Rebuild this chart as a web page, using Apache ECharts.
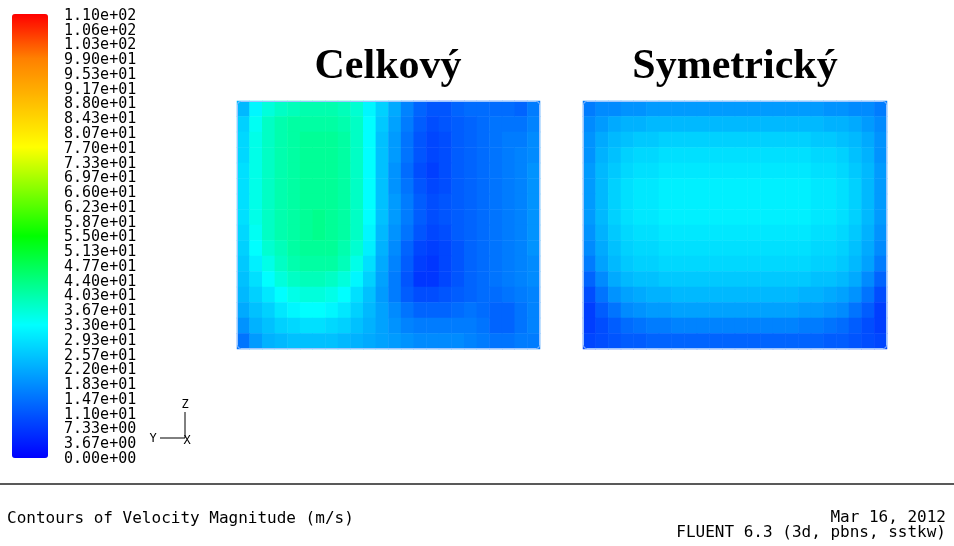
<!DOCTYPE html>
<html><head><meta charset="utf-8">
<script src="https://cdn.jsdelivr.net/npm/echarts@6/dist/echarts.min.js"></script>
<style>html,body{margin:0;padding:0;background:#fff}#c{width:954px;height:546px}</style>
</head><body><div id="c"></div>
<script>
// colour-bar tick labels (bottom to top)
const tickLabels = ["0.00e+00","3.67e+00","7.33e+00","1.10e+01","1.47e+01","1.83e+01","2.20e+01","2.57e+01","2.93e+01","3.30e+01","3.67e+01","4.03e+01","4.40e+01","4.77e+01","5.13e+01","5.50e+01","5.87e+01","6.23e+01","6.60e+01","6.97e+01","7.33e+01","7.70e+01","8.07e+01","8.43e+01","8.80e+01","9.17e+01","9.53e+01","9.90e+01","1.03e+02","1.06e+02","1.10e+02"];
const vMin = 0, vMax = 110;
const titles = ["Celkový", "Symetrický"];
// velocity magnitude (m/s), rows top -> bottom, columns left -> right
const celkovy = [
  [24,32,36,38,39,40,40,40,39,37,32,27,22,17,13,11,11,13,14,14,14,14,13,16],
  [27,34,38,40,41,41,41,41,40,38,33,26,21,16,12,10,11,12,13,14,15,15,15,17],
  [28,35,38,40,41,42,42,42,41,38,33,25,20,15,11, 9,10,12,13,14,15,16,16,18],
  [28,35,38,40,41,42,42,42,41,38,33,25,20,15,11, 9,10,12,13,14,15,16,17,18],
  [29,35,38,40,41,42,42,42,41,38,33,25,19,14,10, 8,10,12,13,14,15,16,17,19],
  [29,35,38,40,41,42,42,42,41,38,33,25,19,15,11, 9,10,12,13,14,15,16,17,19],
  [29,35,38,40,41,42,42,42,41,38,33,25,20,16,12,10,11,12,13,14,15,16,17,19],
  [29,35,38,40,41,42,43,42,41,38,33,25,20,16,12,10,11,12,13,14,15,16,17,19],
  [28,34,38,40,41,42,43,42,41,38,32,24,19,15,11, 9,10,12,13,14,15,16,17,19],
  [27,33,37,39,41,42,42,42,40,37,31,23,18,13, 9, 8, 9,11,13,14,15,16,17,19],
  [26,31,35,38,40,41,41,41,39,35,29,22,17,12, 8, 7, 9,11,13,14,15,16,17,18],
  [25,29,33,36,38,39,39,38,36,32,27,21,16,11, 7, 7, 9,11,13,14,15,16,17,18],
  [24,27,30,33,35,36,36,35,33,29,25,20,16,12,10,10,11,12,13,14,14,15,16,17],
  [22,25,27,30,32,33,33,32,30,27,24,21,18,15,13,13,13,14,15,14,13,13,15,17],
  [19,23,25,27,28,29,29,28,27,25,23,21,19,17,16,16,16,16,16,15,13,13,15,17],
  [15,20,23,24,25,25,25,25,24,23,22,21,20,19,18,18,18,18,17,16,15,15,16,16]
];
const symetricky = [
  [16,18,18,19,19,20,20,20,20,20,20,20,20,20,20,20,20,20,20,19,19,18,18,16],
  [18,20,22,23,23,24,24,24,24,24,24,24,24,24,24,24,24,24,24,23,23,22,20,18],
  [19,22,24,25,26,26,27,27,27,27,27,27,27,27,27,27,27,27,26,26,25,24,22,19],
  [19,23,25,27,28,28,29,29,29,29,29,29,29,29,29,29,29,29,28,28,27,25,23,19],
  [20,24,26,28,29,29,30,30,30,30,30,30,30,30,30,30,30,30,29,29,28,26,24,20],
  [20,24,27,29,30,30,31,31,31,31,31,31,31,31,31,31,31,31,30,30,29,27,24,20],
  [20,24,27,29,30,30,31,31,31,31,31,31,31,31,31,31,31,31,30,30,29,27,24,20],
  [20,24,27,29,30,30,31,31,31,31,31,31,31,31,31,31,31,31,30,30,29,27,24,20],
  [19,23,26,28,29,29,30,30,30,30,30,30,30,30,30,30,30,30,29,29,28,26,23,19],
  [18,22,25,27,28,28,29,29,29,29,29,29,29,29,29,29,29,29,28,28,27,25,22,18],
  [16,21,24,26,27,27,28,28,28,28,28,28,28,28,28,28,28,28,27,27,26,24,21,16],
  [13,18,22,24,25,25,26,26,26,26,26,26,26,26,26,26,26,26,25,25,24,22,18,13],
  [10,15,19,21,22,23,23,24,24,24,24,24,24,24,24,24,24,23,23,22,21,19,15,10],
  [ 8,12,15,18,19,20,20,21,21,21,21,21,21,21,21,21,21,20,20,19,18,15,12, 8],
  [ 8,10,12,14,15,16,16,17,17,17,17,17,17,17,17,17,17,16,16,15,14,12,10, 8],
  [ 9,10,11,12,12,13,13,13,13,13,13,13,13,13,13,13,13,13,13,12,12,11,10, 9]
];
const footerLeft = "Contours of Velocity Magnitude (m/s)";
const footerDate = "Mar 16, 2012";
const footerVersion = "FLUENT 6.3 (3d, pbns, sstkw)";

function toCells(m){const out=[];m.forEach((row,j)=>row.forEach((v,i)=>out.push([i,j,v])));return out;}
const cols = celkovy[0].map((_,i)=>String(i));
const rows = celkovy.map((_,j)=>String(j));

const chart = echarts.init(document.getElementById('c'), null, {renderer:'canvas'});
const mono = 'DejaVu Sans Mono';
const panelGrids = [
  {left:237, top:101, width:303, height:248},
  {left:583, top:101, width:304, height:248}
];
const outline = panelGrids.map(g=>({type:'rect', z:100, shape:{x:g.left+0.5, y:g.top+0.5, width:g.width-1, height:g.height-1, r:3},
  style:{fill:null, stroke:'#9cc4ff', lineWidth:1}}));
const option = {
  backgroundColor:'#fff',
  animation:false,
  grid:[panelGrids[0], panelGrids[1], {left:12, top:16, width:36, height:443}],
  xAxis:[
    {type:'category', data:cols, gridIndex:0, show:false},
    {type:'category', data:cols, gridIndex:1, show:false},
    {type:'value', gridIndex:2, show:false, min:0, max:1}
  ],
  yAxis:[
    {type:'category', data:rows, gridIndex:0, show:false, inverse:true},
    {type:'category', data:rows, gridIndex:1, show:false, inverse:true},
    {type:'category', data:tickLabels, gridIndex:2, position:'right', boundaryGap:false,
     axisLine:{show:false}, axisTick:{show:false}, splitLine:{show:false},
     axisLabel:{show:true, interval:0, margin:16, color:'#000', fontFamily:mono, fontSize:15, align:'left'}}
  ],
  visualMap:{
    type:'continuous', min:vMin, max:vMax, calculable:false, seriesIndex:[0,1],
    left:12, top:14, itemWidth:36, itemHeight:444, padding:0, text:null, showLabel:false,
    inRange:{color:['#0000ff','#0055ff','#00aaff','#00ffff','#00ff80','#00ff00','#80ff00','#ffff00','#ffbf00','#ff8000','#ff0000']}
  },
  series:[
    {type:'heatmap', xAxisIndex:0, yAxisIndex:0, data:toCells(celkovy), itemStyle:{borderWidth:0}},
    {type:'heatmap', xAxisIndex:1, yAxisIndex:1, data:toCells(symetricky), itemStyle:{borderWidth:0}}
  ],
  graphic:outline.concat([
    {type:'text', x:388, y:67, style:{text:titles[0], fontFamily:'Liberation Serif', fontWeight:'bold', fontSize:42, fill:'#000', textAlign:'center', textVerticalAlign:'middle'}},
    {type:'text', x:735, y:67, style:{text:titles[1], fontFamily:'Liberation Serif', fontWeight:'bold', fontSize:42, fill:'#000', textAlign:'center', textVerticalAlign:'middle'}},
    {type:'line', shape:{x1:0,y1:484,x2:954,y2:484}, style:{stroke:'#222', lineWidth:1.6}},
    {type:'text', x:7, y:519, style:{text:footerLeft, fontFamily:mono, fontSize:16, fill:'#000', textVerticalAlign:'middle'}},
    {type:'text', x:946, y:518, style:{text:footerDate, fontFamily:mono, fontSize:16, fill:'#000', textAlign:'right', textVerticalAlign:'middle'}},
    {type:'text', x:946, y:533, style:{text:footerVersion, fontFamily:mono, fontSize:16, fill:'#000', textAlign:'right', textVerticalAlign:'middle'}},
    {type:'line', shape:{x1:185,y1:412,x2:185,y2:438}, style:{stroke:'#000', lineWidth:1}},
    {type:'line', shape:{x1:160,y1:438,x2:185,y2:438}, style:{stroke:'#000', lineWidth:1}},
    {type:'text', x:185, y:405, style:{text:'Z', fontFamily:mono, fontSize:12, fill:'#000', textAlign:'center', textVerticalAlign:'middle'}},
    {type:'text', x:153, y:439, style:{text:'Y', fontFamily:mono, fontSize:12, fill:'#000', textAlign:'center', textVerticalAlign:'middle'}},
    {type:'text', x:187, y:441, style:{text:'X', fontFamily:mono, fontSize:12, fill:'#000', textAlign:'center', textVerticalAlign:'middle'}}
  ])
};
chart.setOption(option);
</script></body></html>
